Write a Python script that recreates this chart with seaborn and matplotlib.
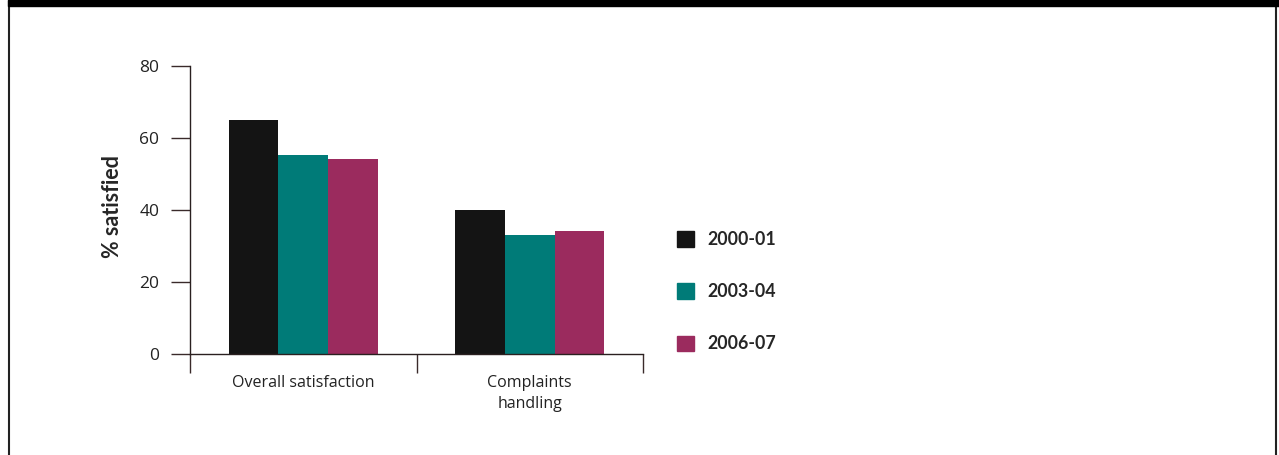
import matplotlib
matplotlib.use("Agg")
import matplotlib.pyplot as plt
from matplotlib.lines import Line2D
from matplotlib.patches import Rectangle
from matplotlib.font_manager import FontProperties
import seaborn as sns
import pandas as pd

categories = ["Overall satisfaction", "Complaints\nhandling"]
years = ["2000-01", "2003-04", "2006-07"]
values_2000 = [65, 40]
values_2003 = [55.3, 33]
values_2006 = [54.2, 34.2]
colors = ["#141414", "#007b78", "#9b2b5e"]
y_ticks = [0, 20, 40, 60, 80]
y_label = "% satisfied"

rows = []
for yr, vals in zip(years, [values_2000, values_2003, values_2006]):
    for c, v in zip(categories, vals):
        rows.append({"category": c, "year": yr, "value": v})
df = pd.DataFrame(rows)

sns.set_style("white")
plt.rcParams["font.family"] = ["Open Sans", "DejaVu Sans"]

bold_fp = FontProperties(family=["Lato", "DejaVu Sans"], weight="bold", size=12.8)
ylab_fp = FontProperties(family=["Lato", "DejaVu Sans"], weight="bold", size=15.5)

fig = plt.figure(figsize=(12.79, 4.55), dpi=100)
ax = fig.add_axes([190 / 1279, 1 - 354 / 455, 453 / 1279, (354 - 65.7) / 455])

sns.barplot(data=df, x="category", y="value", hue="year", order=categories,
            hue_order=years, palette=colors, saturation=1, width=0.66,
            gap=0, ax=ax, errorbar=None, linewidth=0)

ax.set_xlim(-0.5, 1.5)
ax.set_ylim(0, 80)
ax.set_yticks(y_ticks)
ax.set_yticklabels([str(t) for t in y_ticks], fontsize=12.5, color="#222222")
ax.set_xticks([-0.5, 0.5, 1.5])
ax.set_xticklabels(["", "", ""])
ax.set_xticks([0, 1], minor=True)
ax.set_xticklabels(categories, minor=True, fontsize=11.5, color="#222222",
                   linespacing=1.4)
ax.tick_params(axis="x", which="minor", bottom=True, length=0, pad=15)
ax.tick_params(axis="x", which="major", bottom=True, direction="out", length=14,
               width=1, color="#3a2a2a")
ax.tick_params(axis="y", left=True, direction="out", length=14, width=1,
               color="#3a2a2a", pad=8)
ax.set_xlabel("")
ax.set_ylabel(y_label, fontproperties=ylab_fp)
ax.yaxis.set_label_coords(-0.147, 0.512)

for s in ["top", "right"]:
    ax.spines[s].set_visible(False)
for s in ["left", "bottom"]:
    ax.spines[s].set_color("#2a2020")
    ax.spines[s].set_linewidth(1)

handles = [Rectangle((0, 0), 1, 1, color=c) for c in colors]
ax.legend(handles, years, loc="upper left", bbox_to_anchor=(677 / 1279, 1 - 231 / 455),
          bbox_transform=fig.transFigure, frameon=False,
          prop=bold_fp, handlelength=0.95, handleheight=0.95,
          handletextpad=0.75, labelspacing=1.98, borderpad=0, borderaxespad=0)

# frame decorations
fig.add_artist(Rectangle((8 / 1279, 1 - 6 / 455), 1 - 8 / 1279, 6 / 455,
                         transform=fig.transFigure, color="black", zorder=5))
fig.add_artist(Line2D([8.5 / 1279, 8.5 / 1279], [0, 1], transform=fig.transFigure,
                      color="#222222", linewidth=1.5))
fig.add_artist(Line2D([1276 / 1279, 1276 / 1279], [0, 1], transform=fig.transFigure,
                      color="#222222", linewidth=1.5))

fig.savefig("out.png", dpi=100)
